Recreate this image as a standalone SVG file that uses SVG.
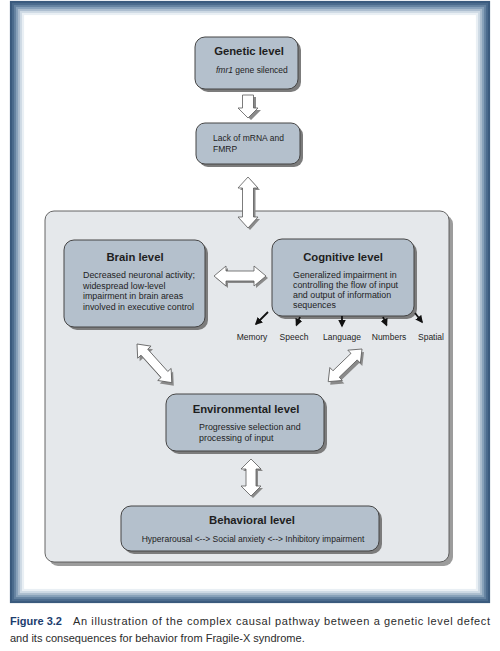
<svg xmlns="http://www.w3.org/2000/svg" width="500" height="651" viewBox="0 0 500 651">
<style>
text{font-family:"Liberation Sans",Arial,sans-serif;fill:#1e1e1e}
.t{font-size:11.3px;font-weight:bold;text-anchor:middle}
.b{font-size:8.9px}
.s{font-size:8.5px}
.lab{font-size:8.5px;text-anchor:middle}
.box{fill:#b4c0cc;stroke:#454545;stroke-width:1}
.sh{fill:#7c7c7c}
.arr{fill:#ffffff;stroke:#5a5a5a;stroke-width:0.8;stroke-linejoin:miter}
.ash{fill:#8a8a8a}
.cap{font-size:11px;fill:#2b2b2b}
</style>
<defs>
<marker id="ah" viewBox="0 0 10 10" refX="8" refY="5" markerWidth="4.2" markerHeight="4.2" orient="auto"><path d="M0,0 L10,5 L0,10 Z" fill="#111"/></marker>
</defs>
<rect width="500" height="651" fill="#ffffff"/>
<!-- frame -->
<g id="frame" fill="none" stroke-width="2.2">
<rect x="11" y="2" width="478" height="600" stroke="#3a5a7d"/>
<rect x="13" y="4" width="474" height="596" stroke="#4a6a8c"/>
<rect x="15" y="6" width="470" height="592" stroke="#6482a0"/>
<rect x="17" y="8" width="466" height="588" stroke="#86a0b9"/>
<rect x="19" y="10" width="462" height="584" stroke="#aabccd"/>
<rect x="21" y="12" width="458" height="580" stroke="#cdd9e4"/>
<rect x="23" y="14" width="454" height="576" stroke="#e9eff4"/>
</g>
<!-- container -->
<g id="container">
<rect x="49" y="215" width="404" height="351" rx="9" fill="#9c9c9c"/>
<rect x="45" y="211" width="404" height="351" rx="9" fill="#e5e8eb" stroke="#555" stroke-width="0.9"/>
</g>
<g id="genetic">
<rect class="sh" x="198" y="40" width="103" height="52" rx="10"/>
<rect class="box" x="195" y="37" width="103" height="52" rx="10"/>
<text class="t" x="249" y="55">Genetic level</text>
<text class="s" x="216" y="73"><tspan font-style="italic">fmr1</tspan> gene silenced</text>
</g>
<g id="lack">
<rect class="sh" x="199" y="126" width="104" height="41" rx="9"/>
<rect class="box" x="196" y="123" width="104" height="41" rx="9"/>
<text class="s" x="213" y="141">Lack of mRNA and</text>
<text class="s" x="213" y="152">FMRP</text>
</g>
<g id="brain">
<rect class="sh" x="67" y="243" width="141" height="87" rx="10"/>
<rect class="box" x="64" y="240" width="141" height="87" rx="10"/>
<text class="t" x="135" y="261">Brain level</text>
<text class="b" x="83" y="278">Decreased neuronal activity;</text>
<text class="b" x="83" y="288.5">widespread low-level</text>
<text class="b" x="83" y="299">impairment in brain areas</text>
<text class="b" x="83" y="309.5">involved in executive control</text>
</g>
<g id="cognitive">
<rect class="sh" x="275" y="242" width="142" height="77" rx="10"/>
<rect class="box" x="272" y="239" width="142" height="77" rx="10"/>
<text class="t" x="343" y="261">Cognitive level</text>
<text class="b" x="293" y="277.5">Generalized impairment in</text>
<text class="b" x="293" y="287.5">controlling the flow of input</text>
<text class="b" x="293" y="297.5">and output of information</text>
<text class="b" x="293" y="308">sequences</text>
</g>
<g id="memory"><text class="lab" x="252" y="340">Memory</text></g>
<g id="speech"><text class="lab" x="294" y="340">Speech</text></g>
<g id="language"><text class="lab" x="342" y="340">Language</text></g>
<g id="numbers"><text class="lab" x="389" y="340">Numbers</text></g>
<g id="spatial"><text class="lab" x="431" y="340">Spatial</text></g>
<g id="environmental">
<rect class="sh" x="169" y="397" width="158" height="57" rx="10"/>
<rect class="box" x="166" y="394" width="158" height="57" rx="10"/>
<text class="t" x="246" y="413">Environmental level</text>
<text class="b" x="199" y="430">Progressive selection and</text>
<text class="b" x="199" y="440.5">processing of input</text>
</g>
<g id="behavioral">
<rect class="sh" x="124" y="509" width="258" height="45" rx="10"/>
<rect class="box" x="121" y="506" width="258" height="45" rx="10"/>
<text class="t" x="252" y="524">Behavioral level</text>
<text class="s" x="253" y="542" text-anchor="middle">Hyperarousal &lt;--&gt; Social anxiety &lt;--&gt; Inhibitory impairment</text>
</g>
<!-- connectors -->
<g id="connectors">
<path class="ash" d="M245,97 L256,97 L256,110 L261,110 L251,120 L241,110 L245,110 Z"/>
<path class="arr" d="M242.5,95 L253.5,95 L253.5,108 L258,108 L248,118 L238,108 L242.5,108 Z"/>
<g transform="translate(250,179) rotate(90)"><path class="ash" d="M0,0 L11,-10 L11,-5.5 L40,-5.5 L40,-10 L51,0 L40,10 L40,5.5 L11,5.5 L11,10 Z"/></g>
<g transform="translate(248,177) rotate(90)"><path class="arr" d="M0,0 L11,-10 L11,-5.5 L40,-5.5 L40,-10 L51,0 L40,10 L40,5.5 L11,5.5 L11,10 Z"/></g>
<g transform="translate(216,278)"><path class="ash" d="M0,0 L12,-10 L12,-5 L40,-5 L40,-10 L52,0 L40,10 L40,5 L12,5 L12,10 Z"/></g>
<g transform="translate(214,276)"><path class="arr" d="M0,0 L12,-10 L12,-5 L40,-5 L40,-10 L52,0 L40,10 L40,5 L12,5 L12,10 Z"/></g>
<g transform="translate(139,347) rotate(48)"><path class="ash" d="M0,0 L11,-9 L11,-4.5 L41,-4.5 L41,-9 L52,0 L41,9 L41,4.5 L11,4.5 L11,9 Z"/></g>
<g transform="translate(137,344) rotate(48)"><path class="arr" d="M0,0 L11,-9 L11,-4.5 L41,-4.5 L41,-9 L52,0 L41,9 L41,4.5 L11,4.5 L11,9 Z"/></g>
<g transform="translate(364,352) rotate(136)"><path class="ash" d="M0,0 L11,-9 L11,-4.5 L36,-4.5 L36,-9 L47,0 L36,9 L36,4.5 L11,4.5 L11,9 Z"/></g>
<g transform="translate(362,349) rotate(136)"><path class="arr" d="M0,0 L11,-9 L11,-4.5 L36,-4.5 L36,-9 L47,0 L36,9 L36,4.5 L11,4.5 L11,9 Z"/></g>
<g transform="translate(253,461) rotate(90)"><path class="ash" d="M0,0 L10,-10 L10,-5 L27,-5 L27,-10 L37,0 L27,10 L27,5 L10,5 L10,10 Z"/></g>
<g transform="translate(251,459) rotate(90)"><path class="arr" d="M0,0 L10,-10 L10,-5 L27,-5 L27,-10 L37,0 L27,10 L27,5 L10,5 L10,10 Z"/></g>
<g stroke="#111" stroke-width="1.8" marker-end="url(#ah)">
<line x1="268" y1="312" x2="256" y2="324"/>
<line x1="300" y1="317" x2="296.5" y2="325"/>
<line x1="342" y1="316" x2="342" y2="326"/>
<line x1="383" y1="317" x2="386.5" y2="325"/>
<line x1="415" y1="313" x2="422" y2="322"/>
</g>
</g>
<!-- caption -->
<g id="caption">
<text class="cap" x="10" y="625" font-weight="bold" style="fill:#1c3d6e">Figure 3.2</text>
<text class="cap" x="73" y="625" textLength="417" lengthAdjust="spacing">An illustration of the complex causal pathway between a genetic level defect</text>
<text class="cap" x="10" y="642">and its consequences for behavior from Fragile-X syndrome.</text>
</g>
</svg>
